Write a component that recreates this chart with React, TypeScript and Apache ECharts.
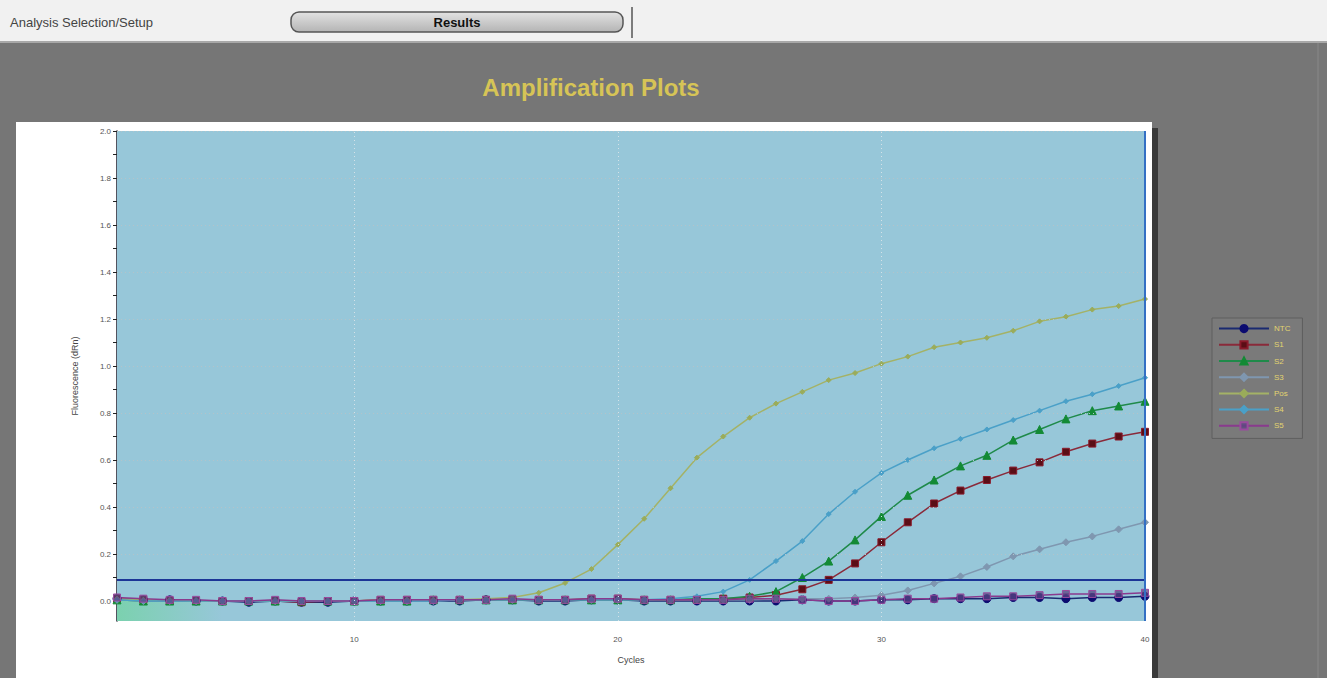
import React, { useEffect, useRef } from "react";
import * as echarts from "echarts";

const cycles: number[] = Array.from({ length: 40 }, (_, i) => i + 1);

const seriesNames = ["NTC", "S1", "S2", "S3", "Pos", "S4", "S5"];

const ntc = [0.01, 0.005, 0.005, 0.0, 0.0, -0.005, 0.0, -0.005, -0.005, 0.0, 0.0, 0.0, 0.0, 0.0, 0.005, 0.005, 0.0, 0.0, 0.005, 0.005, 0.0, 0.0, 0.0, 0.0, 0.0, 0.0, 0.005, 0.0, 0.0, 0.005, 0.005, 0.01, 0.01, 0.01, 0.015, 0.015, 0.01, 0.015, 0.015, 0.02];
const s1 = [0.01, 0.005, 0.0, 0.0, 0.0, 0.0, 0.0, -0.005, 0.0, 0.0, 0.005, 0.005, 0.005, 0.005, 0.005, 0.005, 0.005, 0.005, 0.01, 0.01, 0.005, 0.005, 0.005, 0.01, 0.015, 0.025, 0.05, 0.09, 0.16, 0.25, 0.335, 0.415, 0.47, 0.515, 0.555, 0.59, 0.635, 0.67, 0.7, 0.72];
const s2 = [0.005, 0.0, 0.0, 0.0, 0.0, 0.0, 0.0, 0.0, 0.0, 0.0, 0.0, 0.0, 0.005, 0.005, 0.005, 0.005, 0.005, 0.005, 0.005, 0.005, 0.005, 0.005, 0.01, 0.01, 0.02, 0.04, 0.1, 0.17, 0.26, 0.36, 0.45, 0.515, 0.575, 0.62, 0.685, 0.73, 0.775, 0.81, 0.83, 0.85];
const s3 = [0.005, 0.0, 0.0, 0.0, 0.0, 0.0, 0.0, 0.0, 0.0, 0.0, 0.0, 0.0, 0.0, 0.005, 0.005, 0.005, 0.005, 0.005, 0.005, 0.005, 0.005, 0.005, 0.005, 0.005, 0.005, 0.01, 0.01, 0.01, 0.015, 0.025, 0.045, 0.075, 0.105, 0.145, 0.19, 0.22, 0.25, 0.275, 0.305, 0.335];
const pos = [0.01, 0.005, 0.005, 0.0, 0.0, 0.0, 0.0, 0.0, 0.0, 0.0, 0.005, 0.005, 0.005, 0.005, 0.01, 0.015, 0.035, 0.077, 0.136, 0.24, 0.35, 0.48, 0.61, 0.7, 0.78, 0.84, 0.89, 0.94, 0.97, 1.01, 1.04, 1.08, 1.1, 1.12, 1.15, 1.19, 1.21, 1.24, 1.255, 1.285];
const s4 = [0.005, 0.0, 0.0, 0.0, 0.0, 0.0, 0.0, 0.0, 0.0, 0.0, 0.0, 0.0, 0.0, 0.005, 0.005, 0.005, 0.005, 0.005, 0.005, 0.005, 0.005, 0.01, 0.02, 0.04, 0.09, 0.17, 0.255, 0.37, 0.465, 0.545, 0.6, 0.65, 0.69, 0.73, 0.77, 0.81, 0.85, 0.88, 0.915, 0.95];
const s5 = [0.015, 0.01, 0.005, 0.005, 0.0, 0.0, 0.005, 0.0, 0.0, 0.0, 0.005, 0.005, 0.005, 0.005, 0.005, 0.01, 0.005, 0.005, 0.01, 0.01, 0.005, 0.005, 0.005, 0.005, 0.01, 0.01, 0.005, 0.0, 0.0, 0.005, 0.01, 0.01, 0.015, 0.02, 0.02, 0.025, 0.03, 0.03, 0.03, 0.035];

const threshold = 0.085;
const yLabelValues = [0, 0.2, 0.4, 0.6, 0.8, 1.0, 1.2, 1.4, 1.6, 1.8, 2.0];
const yTickValues = [0, 0.1, 0.2, 0.3, 0.4, 0.5, 0.6, 0.7, 0.8, 0.9, 1.0, 1.1, 1.2, 1.3, 1.4, 1.5, 1.6, 1.7, 1.8, 1.9, 2.0];
const xGridValues = [10, 20, 30];
const xLabelValues = [10, 20, 30, 40];

const seriesStyles = [
  { color: "#0b0b70", border: "#0b0b70", line: "#1a2a70", symbol: "circle", size: 8 },
  { color: "#5a0e16", border: "#8a1a2a", line: "#8a2a3a", symbol: "rect", size: 7 },
  { color: "#138a35", border: "#138a35", line: "#1f8a4a", symbol: "triangle", size: 8 },
  { color: "#7f97b0", border: "#7f97b0", line: "#7f97b0", symbol: "diamond", size: 7 },
  { color: "#9aac5a", border: "#9aac5a", line: "#a4b266", symbol: "diamond", size: 5 },
  { color: "#4aa0c8", border: "#4aa0c8", line: "#4aa0c8", symbol: "diamond", size: 5 },
  { color: "rgba(90,70,130,0.75)", border: "#9a4a9e", line: "#8a3a8e", symbol: "rect", size: 7 },
];
const seriesData = [ntc, s1, s2, s3, pos, s4, s5];

export default function App() {
  const ref = useRef<HTMLDivElement>(null);
  useEffect(() => {
    if (!ref.current) return;
    const chart = echarts.init(ref.current, null, { renderer: "svg" });
    const series: any[] = seriesData.map((d, i) => ({
      name: seriesNames[i],
      type: "line",
      data: d.map((v, j) => [cycles[j], v]),
      symbol: seriesStyles[i].symbol,
      symbolSize: seriesStyles[i].size,
      itemStyle: { color: seriesStyles[i].color, borderColor: seriesStyles[i].border, borderWidth: 1 },
      lineStyle: { color: seriesStyles[i].line, width: 1.5 },
      z: 3,
    }));
    series[0].markLine = {
      silent: true,
      symbol: "none",
      label: { show: false },
      data: [
        ...yLabelValues.slice(1).map((v) => ({ yAxis: v, lineStyle: { color: "#b3c3c9", type: [1, 3], width: 1 } })),
        ...xGridValues.map((v) => ({ xAxis: v, lineStyle: { color: "#d4e2e8", type: [1, 3], width: 1 } })),
        { yAxis: threshold, lineStyle: { color: "#1c3596", type: "solid", width: 2 } },
        { xAxis: 40, lineStyle: { color: "#3470c4", type: "solid", width: 2 } },
      ],
    };
    series[0].markArea = {
      silent: true,
      itemStyle: {
        color: new echarts.graphic.LinearGradient(0, 0, 1, 0, [
          { offset: 0, color: "rgba(120,210,170,0.9)" },
          { offset: 1, color: "rgba(120,210,170,0)" },
        ]),
      },
      data: [[{ xAxis: 1, yAxis: -0.085 }, { xAxis: 5, yAxis: 0 }]],
    };

    chart.setOption({
      animation: false,
      backgroundColor: "#767676",
      title: {
        text: "Amplification Plots",
        left: 586,
        top: 70,
        textAlign: "center",
        textStyle: { color: "#d6c456", fontSize: 24, fontWeight: 600, fontFamily: "Liberation Sans, Arial, sans-serif" },
      },
      legend: {
        orient: "vertical",
        left: 1212,
        top: 318,
        itemWidth: 50,
        itemHeight: 9,
        itemGap: 7,
        backgroundColor: "#7a7a7a",
        borderColor: "#5e5e5e",
        borderWidth: 1,
        padding: [6, 12, 8, 6],
        textStyle: { color: "#e2d470", fontSize: 8, fontFamily: "Liberation Sans, Arial, sans-serif" },
        data: seriesNames,
      },
      graphic: [
        { type: "rect", z: -5, shape: { x: 0, y: 0, width: 1327, height: 41 }, style: { fill: "#f1f1f1" } },
        { type: "rect", z: -5, shape: { x: 0, y: 41, width: 1327, height: 2 }, style: { fill: "#a8a8a8" } },
        { type: "text", z: -4, x: 10, y: 22, style: { text: "Analysis Selection/Setup", fill: "#444", font: "13px Liberation Sans, Arial, sans-serif", verticalAlign: "middle" } },
        { type: "rect", z: -4, shape: { x: 291, y: 12, width: 332, height: 20, r: 8 }, style: {
            fill: new echarts.graphic.LinearGradient(0, 0, 0, 1, [{ offset: 0, color: "#e2e2e2" }, { offset: 1, color: "#b4b4b4" }]),
            stroke: "#555", lineWidth: 1.5 } },
        { type: "text", z: -3, x: 457, y: 22, style: { text: "Results", fill: "#111", font: "bold 13px Liberation Sans, Arial, sans-serif", align: "center", verticalAlign: "middle" } },
        { type: "line", z: -4, shape: { x1: 632, y1: 7, x2: 632, y2: 38 }, style: { stroke: "#555", lineWidth: 1.5 } },
        { type: "rect", z: -5, shape: { x: 1152, y: 128, width: 6, height: 550 }, style: { fill: "#3a3a3a" } },
        { type: "rect", z: -5, shape: { x: 16, y: 122, width: 1136, height: 556 }, style: { fill: "#ffffff" } },
        { type: "line", z: -5, shape: { x1: 1318, y1: 43, x2: 1318, y2: 678 }, style: { stroke: "#888", lineWidth: 1 } },
      ],
      grid: {
        left: 117,
        top: 131,
        right: 182,
        bottom: 57,
        show: true,
        backgroundColor: "#97c7d9",
        borderWidth: 0,
        z: 1,
      },
      xAxis: {
        type: "value",
        min: 1,
        max: 40,
        interval: 1,
        name: "Cycles",
        nameLocation: "middle",
        nameGap: 34,
        nameTextStyle: { color: "#444", fontSize: 9, fontFamily: "Liberation Sans, Arial, sans-serif" },
        axisLine: { show: true, lineStyle: { color: "#1a1a2a", width: 1.5 } },
        axisTick: { show: true, length: 4, lineStyle: { color: "#222" } },
        axisLabel: {
          color: "#555",
          fontSize: 8,
          margin: 14,
          fontFamily: "Liberation Sans, Arial, sans-serif",
          formatter: (v: number) => (xLabelValues.includes(v) ? String(v) : ""),
          showMinLabel: true,
          showMaxLabel: true,
        },
        splitLine: { show: false },
      },
      yAxis: {
        type: "value",
        min: -0.085,
        max: 2.0,
        name: "Fluorescence (dRn)",
        nameLocation: "middle",
        nameGap: 38,
        nameRotate: 90,
        nameTextStyle: { color: "#444", fontSize: 9, fontFamily: "Liberation Sans, Arial, sans-serif" },
        axisLine: { show: true, lineStyle: { color: "#1a1a2a", width: 1.5 } },
        axisTick: { show: true, length: 4, customValues: yTickValues, lineStyle: { color: "#222" } },
        axisLabel: {
          color: "#555",
          fontSize: 8,
          margin: 6,
          customValues: yLabelValues,
          fontFamily: "Liberation Sans, Arial, sans-serif",
          formatter: (v: number) => v.toFixed(1),
        },
        splitLine: { show: false },
      },
      series,
    });
    return () => chart.dispose();
  }, []);
  return <div ref={ref} style={{ position: "fixed", left: 0, top: 0, width: 1327, height: 678 }} />;
}
